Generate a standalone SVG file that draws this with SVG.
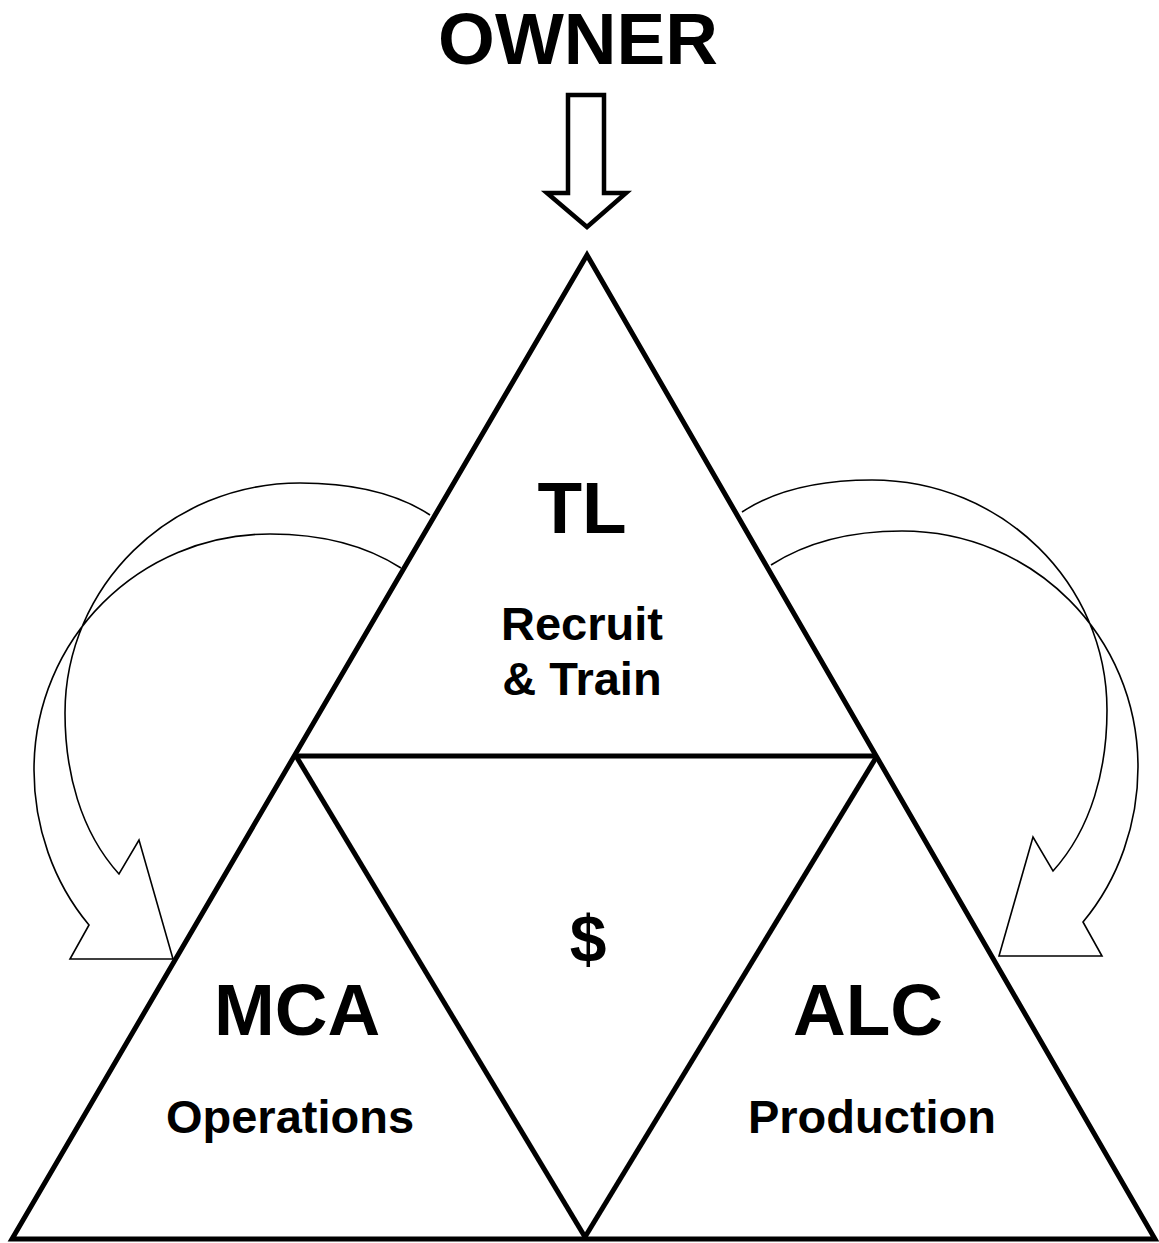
<svg xmlns="http://www.w3.org/2000/svg" width="1159" height="1243" viewBox="0 0 1159 1243">
<style>
.bg{fill:#fff}
.tri{fill:none;stroke:#000;stroke-width:5;stroke-linejoin:miter}
.line{stroke:#000;stroke-width:5;fill:none}
.curve{fill:none;stroke:#000;stroke-width:1.6;stroke-linejoin:miter}
.block{fill:#fff;stroke:#000;stroke-width:4.5;stroke-linejoin:miter}
text{font-family:"Liberation Sans",Arial,sans-serif;font-weight:bold;fill:#000;text-anchor:middle}
.big{font-size:73px}
.sub{font-size:47px}
</style>
<rect class="bg" x="0" y="0" width="1159" height="1243"/>
<g id="connectors">
  <polygon id="owner-arrow" class="block" points="568,95 604,95 604,193 626,193 587,227 547,193 568,193"/>
  <path id="arrow-left" class="curve" d="M 430,515 C 392,490 345,483 300,483 C 170,483 65,586 65,713 C 65,771 80,831 119,874 L 139,840 L 173,959 L 70,959 L 89,925 C 53,882 34,826 34,770 C 34,639 139,534 270,534 C 316,534 362,543 401,568"/>
  <path id="arrow-right" class="curve" d="M 742,512 C 780,487 827,480 872,480 C 1002,480 1107,583 1107,710 C 1107,768 1092,828 1053,871 L 1033,837 L 999,956 L 1102,956 L 1083,922 C 1119,879 1138,823 1138,767 C 1138,636 1033,531 902,531 C 856,531 810,540 771,565"/>
</g>
<g id="owner">
  <text class="big" x="578" y="64">OWNER</text>
</g>
<g id="triangle">
  <polygon class="tri" points="587,255 12,1239 1155,1239"/>
  <line class="line" x1="296" y1="756" x2="877" y2="756"/>
  <line class="line" x1="296" y1="756" x2="585" y2="1237"/>
  <line class="line" x1="877" y1="756" x2="585" y2="1237"/>
</g>
<g id="node-tl">
  <text class="big" x="582" y="533">TL</text>
  <text class="sub" x="582" y="640">Recruit</text>
  <text class="sub" x="582" y="695">&amp; Train</text>
</g>
<g id="node-money">
  <text x="588" y="962" style="font-size:66px">$</text>
</g>
<g id="node-mca">
  <text class="big" x="297" y="1035">MCA</text>
  <text class="sub" x="290" y="1133">Operations</text>
</g>
<g id="node-alc">
  <text class="big" x="868" y="1035">ALC</text>
  <text class="sub" x="872" y="1133">Production</text>
</g>
</svg>
